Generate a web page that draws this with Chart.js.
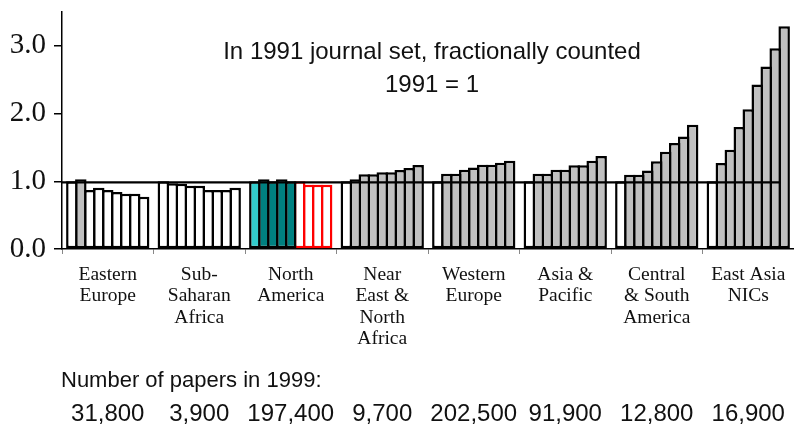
<!DOCTYPE html>
<html>
<head>
<meta charset="utf-8">
<script src="https://cdn.jsdelivr.net/npm/chart.js@4.4.1/dist/chart.umd.min.js"></script>
<style>
  html, body { margin: 0; padding: 0; background: #ffffff; }
  #wrap { width: 794px; height: 426px; position: relative; }
</style>
</head>
<body>
<div id="wrap"><canvas id="c" width="794" height="426"></canvas></div>
<script>
// ---- data ----
const regions = [
  ["Eastern", "Europe"],
  ["Sub-", "Saharan", "Africa"],
  ["North", "America"],
  ["Near", "East &", "North", "Africa"],
  ["Western", "Europe"],
  ["Asia &", "Pacific"],
  ["Central", "& South", "America"],
  ["East Asia", "NICs"]
];
const years = ["1991", "1992", "1993", "1994", "1995", "1996", "1997", "1998", "1999"];

const easternEurope       = [1.00, 1.03, 0.87, 0.905, 0.87, 0.84, 0.815, 0.815, 0.77];
const subSaharanAfrica    = [1.00, 0.97, 0.965, 0.935, 0.935, 0.87, 0.87, 0.87, 0.905];
const northAmerica        = [1.00, 1.03, 1.00, 1.03, 1.00, 1.00, 0.95, 0.95, 0.95];
const nearEastNorthAfrica = [1.00, 1.03, 1.105, 1.105, 1.135, 1.135, 1.165, 1.195, 1.24];
const westernEurope       = [1.00, 1.11, 1.11, 1.17, 1.205, 1.245, 1.245, 1.275, 1.305];
const asiaPacific         = [1.00, 1.11, 1.11, 1.17, 1.17, 1.235, 1.235, 1.305, 1.375];
const centralSouthAmerica = [1.00, 1.095, 1.095, 1.16, 1.295, 1.435, 1.565, 1.66, 1.835];
const eastAsiaNICs        = [1.00, 1.27, 1.465, 1.80, 2.065, 2.43, 2.695, 2.965, 3.29];

const papers1999 = ["31,800", "3,900", "197,400", "9,700", "202,500", "91,900", "12,800", "16,900"];
const yTicks = [0, 1, 2, 3];

const regionSeries = [easternEurope, subSaharanAfrica, northAmerica, nearEastNorthAfrica,
                      westernEurope, asiaPacific, centralSouthAmerica, eastAsiaNICs];

// ---- styling rules ----
const NA_INDEX = 2;
function fillFor(regionIdx, yearIdx, value) {
  if (regionIdx === NA_INDEX) {
    if (yearIdx === 0) return "#33CCCC";
    if (yearIdx <= 4) return "#008080";
    return "#ffffff";
  }
  return value > 1 ? "#C0C0C0" : "#ffffff";
}
function strokeFor(regionIdx, yearIdx) {
  if (regionIdx === NA_INDEX && yearIdx >= 5) return "#FF0000";
  return "#000000";
}

const datasets = years.map((yr, yi) => ({
  label: yr,
  data: regionSeries.map(s => s[yi]),
  backgroundColor: ctx => fillFor(ctx.dataIndex, yi, ctx.raw),
  borderColor: ctx => strokeFor(ctx.dataIndex, yi),
  borderWidth: 2.5,
  borderSkipped: false,
  barPercentage: 1.28,
  categoryPercentage: 0.883
}));

const overlayPlugin = {
  id: "overlay",
  afterDatasetsDraw(chart) {
    const { ctx, chartArea, scales: { x, y } } = chart;
    const yy = y.getPixelForValue(1) + 1;
    const catW = x.width / regions.length;
    const xEnd = x.getPixelForValue(regions.length - 1) + catW * 0.35;
    ctx.save();
    ctx.strokeStyle = "#000";
    ctx.lineWidth = 2.2;
    ctx.beginPath();
    ctx.moveTo(chartArea.left, yy);
    ctx.lineTo(xEnd, yy);
    ctx.stroke();
    ctx.restore();
  },
  afterDraw(chart) {
    const { ctx, scales: { x } } = chart;
    ctx.save();
    ctx.fillStyle = "#111";
    ctx.textBaseline = "middle";
    ctx.textAlign = "center";
    ctx.font = "24px 'Liberation Sans', Arial, sans-serif";
    ctx.fillText("In 1991 journal set, fractionally counted", 432, 52);
    ctx.fillText("1991 = 1", 432, 85);
    ctx.textAlign = "left";
    ctx.font = "22px 'Liberation Sans', Arial, sans-serif";
    ctx.fillText("Number of papers in 1999:", 61, 381);
    ctx.textAlign = "center";
    ctx.font = "24px 'Liberation Sans', Arial, sans-serif";
    papers1999.forEach((t, i) => {
      ctx.fillText(t, x.getPixelForValue(i), 414);
    });
    ctx.restore();
  }
};

new Chart(document.getElementById("c"), {
  type: "bar",
  data: { labels: regions, datasets },
  options: {
    responsive: false,
    animation: false,
    devicePixelRatio: 1,
    layout: { padding: { top: 12, right: 0, bottom: 0, left: 0 } },
    plugins: { legend: { display: false }, tooltip: { enabled: false }, title: { display: false } },
    scales: {
      x: {
        grid: { display: true, drawOnChartArea: false, drawTicks: true, tickLength: 5, color: "#888", lineWidth: 1 },
        border: { display: true, color: "#000", width: 1.5 },
        ticks: {
          autoSkip: false, maxRotation: 0, minRotation: 0, padding: 10,
          color: "#111",
          font: { family: "'Liberation Serif', 'Times New Roman', serif", size: 19.5, lineHeight: 1.1 }
        },
        afterFit: s => { s.height = 177; s.paddingLeft = 0; s.paddingRight = 0; }
      },
      y: {
        min: 0, max: 3.5,
        afterBuildTicks: s => { s.ticks = yTicks.map(v => ({ value: v })); },
        grid: { display: true, drawOnChartArea: false, drawTicks: true, tickLength: 8, color: "#000", lineWidth: 1.5 },
        border: { display: true, color: "#000", width: 1.5 },
        ticks: {
          padding: 8, color: "#111",
          callback: v => Number(v).toFixed(1),
          font: { family: "'Liberation Serif', 'Times New Roman', serif", size: 29 }
        },
        afterFit: s => { s.width = 62; s.paddingTop = 0; s.paddingBottom = 0; }
      }
    }
  },
  plugins: [overlayPlugin]
});
</script>
</body>
</html>
